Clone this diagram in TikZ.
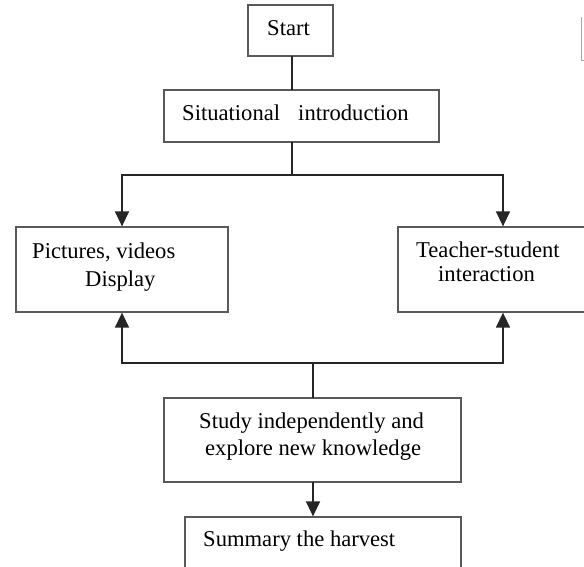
\documentclass[tikz,border=0pt]{standalone}
\usepackage{fontspec}
\setmainfont{Liberation Serif}
\usetikzlibrary{arrows.meta}
\begin{document}
\begin{tikzpicture}[x=1pt,y=-1pt,
  box/.style={draw=black!65,line width=1.3pt,minimum width=#1,inner sep=0pt},
  lbl/.style={anchor=base west,inner sep=0pt,font=\fontsize{22.6}{26}\selectfont,text=black},
  conn/.style={draw=black!85,line width=1.5pt},
  arr/.style={conn,-{Triangle[width=14pt,length=15pt]}}]
\useasboundingbox (0,0) rectangle (584,566);
\fill[white] (0,0) rectangle (584,566);
% boxes
\node[box=85pt,minimum height=51pt] (start) at (290.5,30.5) {};
\node[box=275pt,minimum height=52pt] (situ) at (301.5,116) {};
\node[box=212pt,minimum height=85pt] (pic) at (122,269.5) {};
\node[box=210pt,minimum height=85pt] (teach) at (503,269.5) {};
\node[box=297pt,minimum height=84pt] (study) at (312.5,440) {};
\node[box=276pt,minimum height=83pt] (summ) at (323,558.5) {};
% texts
\node[lbl] (tstart) at (267,35) {Start};
\node[lbl] (tsitu) at (182,120) {Situational\hspace{0.55em} introduction};
\node[lbl] (tpic1) at (32,258) {Pictures, videos};
\node[lbl] (tpic2) at (85,286) {Display};
\node[lbl] (tteach1) at (416,257) {Teacher-student};
\node[lbl] (tteach2) at (438,281) {interaction};
\node[lbl] (tstudy1) at (199,428) {Study independently and};
\node[lbl] (tstudy2) at (205,455) {explore new knowledge};
\node[lbl] (tsumm) at (203,546) {Summary the harvest};
% connectors
\coordinate (c1) at (292,56);
\coordinate (c2) at (292,90);
\coordinate (c3) at (292,142);
\coordinate (split1) at (292,175);
\coordinate (s2top) at (313,398);
\coordinate (s2bot) at (313,482);
\coordinate (split2) at (313,363);
\draw[conn] (c1) -- (c2);
\draw[conn] (c3) -- (split1);
\draw[arr] (split1) -| (pic.north);
\draw[arr] (split1) -| (teach.north);
\draw[conn] (s2top) -- (split2);
\draw[arr] (split2) -| (pic.south);
\draw[arr] (split2) -| (teach.south);
\draw[arr] (s2bot) -- (s2bot |- summ.north);
% stray mark top right
\draw[black!35,line width=1pt] (581,17) -- (581,60) -- (584,60);
\end{tikzpicture}
\end{document}
